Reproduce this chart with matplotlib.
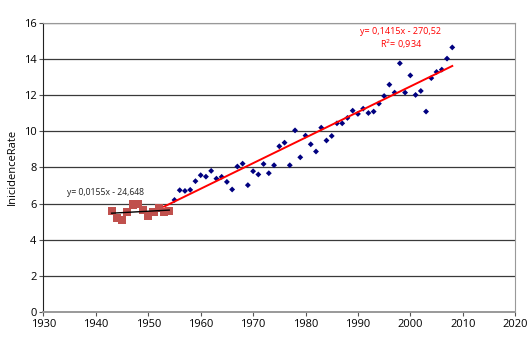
import matplotlib.pyplot as plt

plt.rcParams['font.family'] = ['Open Sans', 'DejaVu Sans']

# early period (red squares)
years_early = [1943, 1944, 1945, 1946, 1947, 1948, 1949, 1950, 1951, 1952, 1953, 1954]
rate_early = [5.6, 5.2, 5.1, 5.54, 5.95, 5.98, 5.62, 5.34, 5.54, 5.76, 5.54, 5.6]

# later period (blue diamonds)
years_late = list(range(1955, 2009))
rate_late = [6.2, 6.74, 6.70, 6.76, 7.24, 7.57, 7.49, 7.81, 7.38, 7.48,
             7.2, 6.78, 8.05, 8.21, 7.02, 7.79, 7.61, 8.19, 7.68, 8.12,
             9.17, 9.37, 8.12, 10.05, 8.56, 9.76, 9.28, 8.88, 10.2, 9.49,
             9.74, 10.44, 10.44, 10.74, 11.14, 10.96, 11.25, 11.01, 11.09, 11.53,
             11.95, 12.58, 12.14, 13.76, 12.14, 13.09, 12.01, 12.23, 11.09, 12.94,
             13.28, 13.41, 14.02, 14.64]

# trendline coefficients as printed on the chart
slope_early, icpt_early = 0.0155, -24.648
slope_late, icpt_late = 0.1415, -270.52
trend_late_range = [1953, 2008]


def main():
    fig = plt.figure(figsize=(5.3, 3.62), dpi=100)
    ax = fig.add_axes([0.082, 0.138, 0.89, 0.799])

    for yv in range(2, 17, 2):
        ax.axhline(yv, color='#3a3a3a', lw=0.9, zorder=0)

    ax.scatter(years_late, rate_late, marker='D', s=9, color='#000080',
               edgecolors='none', zorder=3)
    ax.scatter(years_early, rate_early, marker='s', s=34, color='#c0504d',
               edgecolors='none', zorder=3)

    x0, x1 = years_early[0], years_early[-1]
    ax.plot([x0, x1], [slope_early * x0 + icpt_early, slope_early * x1 + icpt_early],
            color='black', lw=1, zorder=4)
    x0, x1 = trend_late_range
    ax.plot([x0, x1], [slope_late * x0 + icpt_late, slope_late * x1 + icpt_late],
            color='red', lw=1.4, zorder=4)

    ax.text(1934.4, 6.45, 'y= 0,0155x - 24,648', fontsize=6.2, color='#222222')
    ax.text(1998.2, 14.45, 'y= 0,1415x - 270,52\nR$^2$= 0,934', fontsize=6.5,
            color='red', ha='center', va='bottom', linespacing=1.1)

    ax.set_xlim(1930, 2020)
    ax.set_ylim(0, 16)
    ax.set_xticks(range(1930, 2021, 10))
    ax.set_yticks(range(0, 17, 2))
    ax.tick_params(labelsize=8, length=3, width=0.8, color='#555555', pad=2)
    ax.set_ylabel('InicidenceRate', fontsize=8)

    for side in ['top', 'right', 'bottom']:
        ax.spines[side].set_color('#999999')
    ax.spines['left'].set_color('#222222')
    ax.spines['bottom'].set_linewidth(1.4)

    fig.savefig('out.png', dpi=100)


if __name__ == "__main__":
    main()
